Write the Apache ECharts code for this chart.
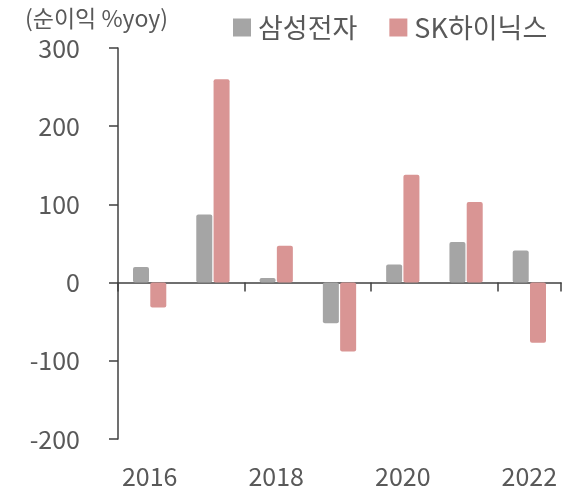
<!DOCTYPE html>
<html><head><meta charset="utf-8">
<script src="https://cdn.jsdelivr.net/npm/echarts@6/dist/echarts.min.js"></script>
<style>html,body{margin:0;padding:0;background:#fff}#c{width:575px;height:492px}</style>
</head><body><div id="c"></div>
<script>
const categories = ['2016','2017','2018','2019','2020','2021','2022'];
const samsung = [20, 87, 6, -52, 23, 52, 41];
const hynix = [-32, 260, 47, -88, 138, 103, -77];
const seriesNames = ['삼성전자', 'SK하이닉스'];
const yTitle = '(순이익 %yoy)';

const FONT = '"Noto Sans CJK KR", "Noto Sans", sans-serif';
const TXT = '#595959';
const chart = echarts.init(document.getElementById('c'), null, {renderer:'canvas'});
chart.setOption({
  animation: false,
  textStyle: {fontFamily: FONT},
  title: {text: yTitle, left: 20, top: 2, textStyle: {fontFamily: FONT, fontSize: 23, fontWeight: 'normal', color: TXT}},
  legend: {
    left: 228, top: 9, itemWidth: 18, itemHeight: 18, itemGap: 32, icon: 'rect',
    textStyle: {fontFamily: FONT, fontSize: 27, color: TXT, padding: [0,0,0,2]},
    data: seriesNames
  },
  grid: {left: 118, right: 14, top: 48, bottom: 53},
  xAxis: [
    {type: 'category', data: categories, position: 'bottom',
     axisLine: {show: false, onZero: false}, axisTick: {show: false},
     axisLabel: {interval: 1, margin: 25, fontSize: 25, color: TXT, fontFamily: FONT}},
    {type: 'category', data: categories, position: 'bottom',
     axisLine: {show: true, onZero: true, lineStyle: {color: '#404040', width: 1.5}},
     axisTick: {show: true, interval: 1, length: 9, lineStyle: {color: '#404040', width: 1.5}},
     axisLabel: {show: false}}
  ],
  yAxis: {
    type: 'value', min: -200, max: 300, interval: 100,
    axisLine: {show: true, lineStyle: {color: '#404040', width: 1.5}},
    axisTick: {show: true, length: 9, lineStyle: {color: '#404040', width: 1.5}},
    splitLine: {show: false},
    axisLabel: {margin: 38, fontSize: 25, color: TXT, fontFamily: FONT}
  },
  series: [
    {name: seriesNames[0], type: 'bar', data: samsung, barWidth: 16, barGap: '8%',
     itemStyle: {color: '#A5A5A5', borderRadius: 2}},
    {name: seriesNames[1], type: 'bar', data: hynix, barWidth: 16, barGap: '8%',
     itemStyle: {color: '#D99594', borderRadius: 2}}
  ]
});
</script></body></html>
